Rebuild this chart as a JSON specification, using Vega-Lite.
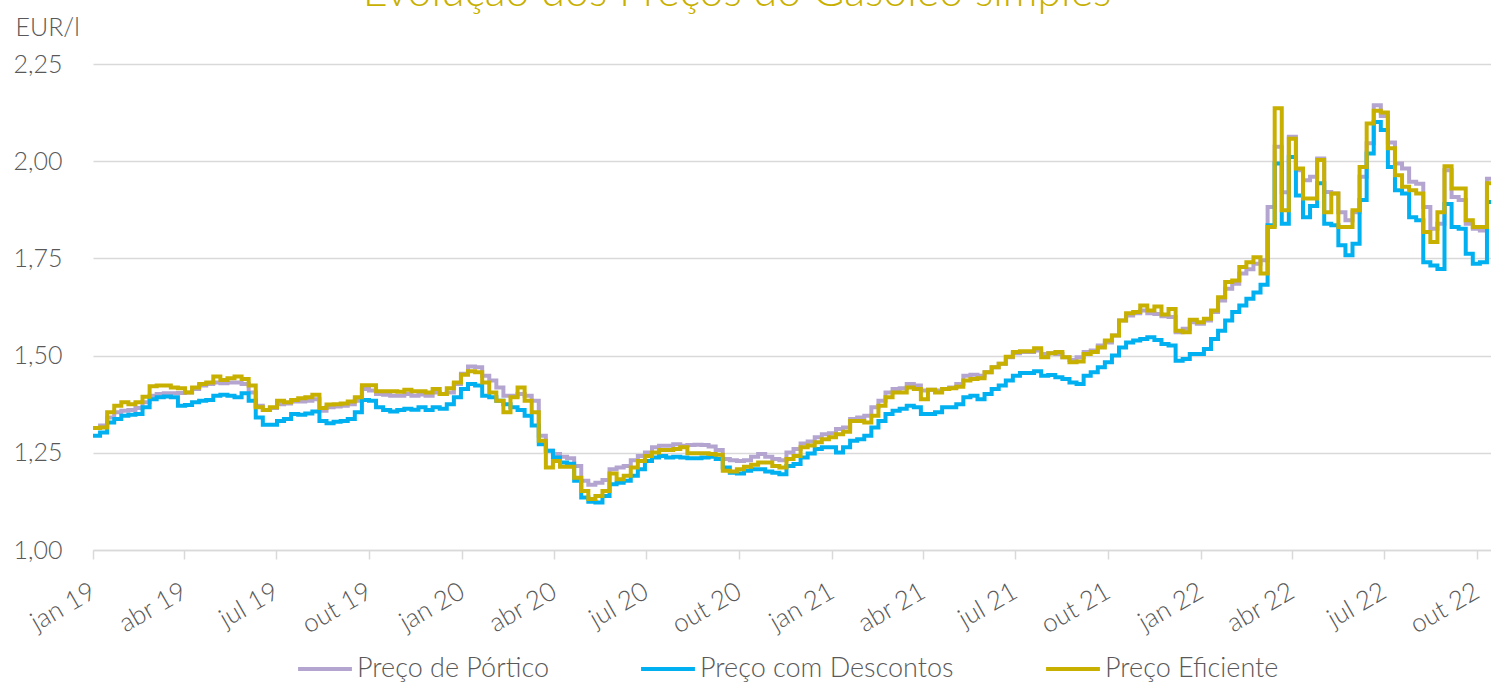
{
  "$schema": "https://vega.github.io/schema/vega-lite/v6.json",
  "width": 1398,
  "height": 486,
  "autosize": {"type": "none"},
  "padding": {"left": 93, "top": 64, "right": 0, "bottom": 132},
  "background": "white",
  "title": {"text": "Evolução dos Preços do Gasóleo simples", "color": "#C8B000", "fontSize": 43, "font": "Lato", "fontWeight": 300, "anchor": "middle", "frame": "group", "dx": -55, "offset": 0},
  "data": {"values": [
{"d":"2019-01-01","p":1.314,"c":1.294,"e":1.314},
{"d":"2019-01-08","p":1.320,"c":1.302,"e":1.315},
{"d":"2019-01-15","p":1.341,"c":1.328,"e":1.354},
{"d":"2019-01-22","p":1.354,"c":1.337,"e":1.371},
{"d":"2019-01-29","p":1.358,"c":1.345,"e":1.380},
{"d":"2019-02-05","p":1.360,"c":1.348,"e":1.375},
{"d":"2019-02-12","p":1.365,"c":1.350,"e":1.380},
{"d":"2019-02-19","p":1.380,"c":1.367,"e":1.394},
{"d":"2019-02-26","p":1.397,"c":1.388,"e":1.421},
{"d":"2019-03-05","p":1.401,"c":1.393,"e":1.423},
{"d":"2019-03-12","p":1.403,"c":1.395,"e":1.423},
{"d":"2019-03-19","p":1.403,"c":1.393,"e":1.418},
{"d":"2019-03-26","p":1.404,"c":1.371,"e":1.416},
{"d":"2019-04-02","p":1.405,"c":1.373,"e":1.405},
{"d":"2019-04-09","p":1.414,"c":1.380,"e":1.418},
{"d":"2019-04-16","p":1.423,"c":1.384,"e":1.427},
{"d":"2019-04-23","p":1.427,"c":1.386,"e":1.431},
{"d":"2019-04-30","p":1.431,"c":1.397,"e":1.446},
{"d":"2019-05-07","p":1.429,"c":1.399,"e":1.437},
{"d":"2019-05-14","p":1.431,"c":1.397,"e":1.442},
{"d":"2019-05-21","p":1.431,"c":1.393,"e":1.446},
{"d":"2019-05-28","p":1.427,"c":1.403,"e":1.440},
{"d":"2019-06-04","p":1.405,"c":1.384,"e":1.423},
{"d":"2019-06-11","p":1.371,"c":1.341,"e":1.367},
{"d":"2019-06-18","p":1.360,"c":1.322,"e":1.360},
{"d":"2019-06-25","p":1.365,"c":1.322,"e":1.367},
{"d":"2019-07-02","p":1.375,"c":1.332,"e":1.384},
{"d":"2019-07-09","p":1.377,"c":1.337,"e":1.380},
{"d":"2019-07-16","p":1.382,"c":1.350,"e":1.386},
{"d":"2019-07-23","p":1.382,"c":1.348,"e":1.390},
{"d":"2019-07-30","p":1.384,"c":1.351,"e":1.393},
{"d":"2019-08-06","p":1.388,"c":1.356,"e":1.399},
{"d":"2019-08-13","p":1.358,"c":1.332,"e":1.365},
{"d":"2019-08-20","p":1.367,"c":1.326,"e":1.374},
{"d":"2019-08-27","p":1.369,"c":1.330,"e":1.375},
{"d":"2019-09-03","p":1.371,"c":1.332,"e":1.377},
{"d":"2019-09-10","p":1.375,"c":1.337,"e":1.382},
{"d":"2019-09-17","p":1.384,"c":1.354,"e":1.393},
{"d":"2019-09-24","p":1.414,"c":1.386,"e":1.424},
{"d":"2019-10-01","p":1.410,"c":1.384,"e":1.424},
{"d":"2019-10-08","p":1.401,"c":1.367,"e":1.408},
{"d":"2019-10-15","p":1.399,"c":1.360,"e":1.408},
{"d":"2019-10-22","p":1.397,"c":1.356,"e":1.408},
{"d":"2019-10-29","p":1.397,"c":1.360,"e":1.407},
{"d":"2019-11-05","p":1.401,"c":1.363,"e":1.412},
{"d":"2019-11-12","p":1.397,"c":1.361,"e":1.408},
{"d":"2019-11-19","p":1.400,"c":1.367,"e":1.408},
{"d":"2019-11-26","p":1.397,"c":1.360,"e":1.405},
{"d":"2019-12-03","p":1.405,"c":1.367,"e":1.414},
{"d":"2019-12-10","p":1.401,"c":1.363,"e":1.401},
{"d":"2019-12-17","p":1.405,"c":1.375,"e":1.416},
{"d":"2019-12-24","p":1.427,"c":1.393,"e":1.431},
{"d":"2019-12-31","p":1.453,"c":1.414,"e":1.451},
{"d":"2020-01-07","p":1.472,"c":1.427,"e":1.460},
{"d":"2020-01-14","p":1.470,"c":1.423,"e":1.457},
{"d":"2020-01-21","p":1.448,"c":1.397,"e":1.431},
{"d":"2020-01-28","p":1.436,"c":1.393,"e":1.405},
{"d":"2020-02-04","p":1.418,"c":1.384,"e":1.384},
{"d":"2020-02-11","p":1.397,"c":1.375,"e":1.354},
{"d":"2020-02-18","p":1.397,"c":1.367,"e":1.393},
{"d":"2020-02-25","p":1.401,"c":1.360,"e":1.418},
{"d":"2020-03-03","p":1.397,"c":1.345,"e":1.384},
{"d":"2020-03-10","p":1.384,"c":1.320,"e":1.354},
{"d":"2020-03-17","p":1.294,"c":1.272,"e":1.281},
{"d":"2020-03-24","p":1.255,"c":1.255,"e":1.212},
{"d":"2020-03-31","p":1.247,"c":1.238,"e":1.229},
{"d":"2020-04-07","p":1.240,"c":1.225,"e":1.214},
{"d":"2020-04-14","p":1.236,"c":1.222,"e":1.214},
{"d":"2020-04-21","p":1.216,"c":1.178,"e":1.186},
{"d":"2020-04-28","p":1.178,"c":1.135,"e":1.152},
{"d":"2020-05-05","p":1.168,"c":1.124,"e":1.131},
{"d":"2020-05-12","p":1.173,"c":1.122,"e":1.139},
{"d":"2020-05-19","p":1.180,"c":1.139,"e":1.152},
{"d":"2020-05-26","p":1.208,"c":1.169,"e":1.197},
{"d":"2020-06-02","p":1.212,"c":1.173,"e":1.182},
{"d":"2020-06-09","p":1.216,"c":1.178,"e":1.191},
{"d":"2020-06-16","p":1.231,"c":1.191,"e":1.212},
{"d":"2020-06-23","p":1.242,"c":1.208,"e":1.229},
{"d":"2020-06-30","p":1.251,"c":1.229,"e":1.242},
{"d":"2020-07-07","p":1.264,"c":1.238,"e":1.251},
{"d":"2020-07-14","p":1.268,"c":1.242,"e":1.257},
{"d":"2020-07-21","p":1.268,"c":1.238,"e":1.257},
{"d":"2020-07-28","p":1.272,"c":1.240,"e":1.260},
{"d":"2020-08-04","p":1.268,"c":1.238,"e":1.264},
{"d":"2020-08-11","p":1.270,"c":1.236,"e":1.249},
{"d":"2020-08-18","p":1.271,"c":1.236,"e":1.249},
{"d":"2020-08-25","p":1.270,"c":1.238,"e":1.249},
{"d":"2020-09-01","p":1.266,"c":1.240,"e":1.247},
{"d":"2020-09-08","p":1.257,"c":1.234,"e":1.245},
{"d":"2020-09-15","p":1.234,"c":1.212,"e":1.204},
{"d":"2020-09-22","p":1.231,"c":1.199,"e":1.202},
{"d":"2020-09-29","p":1.229,"c":1.197,"e":1.208},
{"d":"2020-10-06","p":1.231,"c":1.204,"e":1.214},
{"d":"2020-10-13","p":1.240,"c":1.208,"e":1.219},
{"d":"2020-10-20","p":1.247,"c":1.208,"e":1.225},
{"d":"2020-10-27","p":1.240,"c":1.202,"e":1.225},
{"d":"2020-11-03","p":1.234,"c":1.199,"e":1.216},
{"d":"2020-11-10","p":1.231,"c":1.195,"e":1.212},
{"d":"2020-11-17","p":1.251,"c":1.216,"e":1.234},
{"d":"2020-11-24","p":1.260,"c":1.221,"e":1.242},
{"d":"2020-12-01","p":1.274,"c":1.238,"e":1.264},
{"d":"2020-12-08","p":1.279,"c":1.248,"e":1.269},
{"d":"2020-12-15","p":1.290,"c":1.260,"e":1.277},
{"d":"2020-12-22","p":1.298,"c":1.264,"e":1.285},
{"d":"2020-12-29","p":1.300,"c":1.264,"e":1.290},
{"d":"2021-01-05","p":1.311,"c":1.251,"e":1.298},
{"d":"2021-01-12","p":1.315,"c":1.264,"e":1.304},
{"d":"2021-01-19","p":1.337,"c":1.281,"e":1.332},
{"d":"2021-01-26","p":1.341,"c":1.285,"e":1.332},
{"d":"2021-02-02","p":1.345,"c":1.294,"e":1.328},
{"d":"2021-02-09","p":1.367,"c":1.315,"e":1.345},
{"d":"2021-02-16","p":1.384,"c":1.332,"e":1.371},
{"d":"2021-02-23","p":1.405,"c":1.350,"e":1.393},
{"d":"2021-03-02","p":1.414,"c":1.358,"e":1.405},
{"d":"2021-03-09","p":1.416,"c":1.363,"e":1.405},
{"d":"2021-03-16","p":1.427,"c":1.371,"e":1.418},
{"d":"2021-03-23","p":1.423,"c":1.367,"e":1.414},
{"d":"2021-03-30","p":1.410,"c":1.350,"e":1.388},
{"d":"2021-04-06","p":1.412,"c":1.350,"e":1.412},
{"d":"2021-04-13","p":1.410,"c":1.354,"e":1.405},
{"d":"2021-04-20","p":1.414,"c":1.367,"e":1.414},
{"d":"2021-04-27","p":1.418,"c":1.367,"e":1.416},
{"d":"2021-05-04","p":1.427,"c":1.375,"e":1.420},
{"d":"2021-05-11","p":1.448,"c":1.393,"e":1.436},
{"d":"2021-05-18","p":1.451,"c":1.397,"e":1.440},
{"d":"2021-05-25","p":1.448,"c":1.388,"e":1.442},
{"d":"2021-06-01","p":1.457,"c":1.401,"e":1.457},
{"d":"2021-06-08","p":1.470,"c":1.414,"e":1.470},
{"d":"2021-06-15","p":1.479,"c":1.423,"e":1.479},
{"d":"2021-06-22","p":1.496,"c":1.436,"e":1.497},
{"d":"2021-06-29","p":1.506,"c":1.448,"e":1.509},
{"d":"2021-07-06","p":1.509,"c":1.455,"e":1.511},
{"d":"2021-07-13","p":1.509,"c":1.455,"e":1.511},
{"d":"2021-07-20","p":1.513,"c":1.460,"e":1.519},
{"d":"2021-07-27","p":1.504,"c":1.448,"e":1.496},
{"d":"2021-08-03","p":1.506,"c":1.450,"e":1.506},
{"d":"2021-08-10","p":1.504,"c":1.444,"e":1.509},
{"d":"2021-08-17","p":1.496,"c":1.440,"e":1.496},
{"d":"2021-08-24","p":1.489,"c":1.431,"e":1.483},
{"d":"2021-08-31","p":1.496,"c":1.427,"e":1.485},
{"d":"2021-09-07","p":1.509,"c":1.448,"e":1.504},
{"d":"2021-09-14","p":1.513,"c":1.457,"e":1.509},
{"d":"2021-09-21","p":1.526,"c":1.470,"e":1.521},
{"d":"2021-09-28","p":1.534,"c":1.483,"e":1.539},
{"d":"2021-10-05","p":1.552,"c":1.500,"e":1.552},
{"d":"2021-10-12","p":1.590,"c":1.521,"e":1.590},
{"d":"2021-10-19","p":1.603,"c":1.534,"e":1.609},
{"d":"2021-10-26","p":1.609,"c":1.539,"e":1.612},
{"d":"2021-11-02","p":1.616,"c":1.543,"e":1.629},
{"d":"2021-11-09","p":1.609,"c":1.547,"e":1.616},
{"d":"2021-11-16","p":1.607,"c":1.540,"e":1.626},
{"d":"2021-11-23","p":1.601,"c":1.530,"e":1.606},
{"d":"2021-11-30","p":1.599,"c":1.526,"e":1.620},
{"d":"2021-12-07","p":1.560,"c":1.487,"e":1.564},
{"d":"2021-12-14","p":1.569,"c":1.491,"e":1.560},
{"d":"2021-12-21","p":1.586,"c":1.504,"e":1.592},
{"d":"2021-12-28","p":1.582,"c":1.504,"e":1.586},
{"d":"2022-01-04","p":1.590,"c":1.517,"e":1.595},
{"d":"2022-01-11","p":1.612,"c":1.543,"e":1.616},
{"d":"2022-01-18","p":1.642,"c":1.564,"e":1.650},
{"d":"2022-01-25","p":1.672,"c":1.590,"e":1.689},
{"d":"2022-02-01","p":1.685,"c":1.612,"e":1.693},
{"d":"2022-02-08","p":1.711,"c":1.629,"e":1.728},
{"d":"2022-02-15","p":1.722,"c":1.646,"e":1.740},
{"d":"2022-02-22","p":1.736,"c":1.662,"e":1.753},
{"d":"2022-03-01","p":1.745,"c":1.682,"e":1.711},
{"d":"2022-03-08","p":1.882,"c":1.835,"e":1.831},
{"d":"2022-03-15","p":2.037,"c":1.994,"e":2.136},
{"d":"2022-03-22","p":1.920,"c":1.839,"e":1.874},
{"d":"2022-03-29","p":2.063,"c":2.011,"e":2.058},
{"d":"2022-04-05","p":1.977,"c":1.912,"e":1.981},
{"d":"2022-04-12","p":1.951,"c":1.856,"e":1.904},
{"d":"2022-04-19","p":1.960,"c":1.885,"e":1.904},
{"d":"2022-04-26","p":2.007,"c":1.943,"e":2.003},
{"d":"2022-05-03","p":1.921,"c":1.839,"e":1.869},
{"d":"2022-05-10","p":1.917,"c":1.835,"e":1.917},
{"d":"2022-05-17","p":1.869,"c":1.784,"e":1.831},
{"d":"2022-05-24","p":1.848,"c":1.758,"e":1.831},
{"d":"2022-05-31","p":1.869,"c":1.788,"e":1.874},
{"d":"2022-06-07","p":1.960,"c":1.900,"e":1.985},
{"d":"2022-06-14","p":2.046,"c":2.020,"e":2.097},
{"d":"2022-06-21","p":2.144,"c":2.101,"e":2.130},
{"d":"2022-06-28","p":2.116,"c":2.080,"e":2.125},
{"d":"2022-07-05","p":2.048,"c":1.985,"e":2.033},
{"d":"2022-07-12","p":1.994,"c":1.925,"e":1.964},
{"d":"2022-07-19","p":1.981,"c":1.917,"e":1.934},
{"d":"2022-07-26","p":1.947,"c":1.856,"e":1.925},
{"d":"2022-08-02","p":1.942,"c":1.848,"e":1.917},
{"d":"2022-08-09","p":1.882,"c":1.740,"e":1.818},
{"d":"2022-08-16","p":1.826,"c":1.732,"e":1.792},
{"d":"2022-08-23","p":1.839,"c":1.723,"e":1.869},
{"d":"2022-08-30","p":1.977,"c":1.890,"e":1.987},
{"d":"2022-09-06","p":1.908,"c":1.831,"e":1.930},
{"d":"2022-09-13","p":1.900,"c":1.826,"e":1.930},
{"d":"2022-09-20","p":1.839,"c":1.762,"e":1.848},
{"d":"2022-09-27","p":1.826,"c":1.736,"e":1.831},
{"d":"2022-10-04","p":1.822,"c":1.740,"e":1.831},
{"d":"2022-10-11","p":1.955,"c":1.895,"e":1.943},
{"d":"2022-10-15","p":1.955,"c":1.895,"e":1.943}
  ]},
  "transform": [{"fold": ["p", "c", "e"], "as": ["serie", "valor"]}],
  "mark": {"type": "line", "strokeWidth": 4, "interpolate": "step-after", "clip": true},
  "encoding": {
    "x": {
      "field": "d", "type": "temporal",
      "scale": {"type": "utc", "domain": [{"year": 2019, "month": 1, "date": 1, "utc": true}, {"year": 2022, "month": 10, "date": 15, "utc": true}]},
      "axis": {
        "title": null,
        "values": [
          {"year": 2019, "month": 1, "date": 1, "utc": true}, {"year": 2019, "month": 4, "date": 1, "utc": true},
          {"year": 2019, "month": 7, "date": 1, "utc": true}, {"year": 2019, "month": 10, "date": 1, "utc": true},
          {"year": 2020, "month": 1, "date": 1, "utc": true}, {"year": 2020, "month": 4, "date": 1, "utc": true},
          {"year": 2020, "month": 7, "date": 1, "utc": true}, {"year": 2020, "month": 10, "date": 1, "utc": true},
          {"year": 2021, "month": 1, "date": 1, "utc": true}, {"year": 2021, "month": 4, "date": 1, "utc": true},
          {"year": 2021, "month": 7, "date": 1, "utc": true}, {"year": 2021, "month": 10, "date": 1, "utc": true},
          {"year": 2022, "month": 1, "date": 1, "utc": true}, {"year": 2022, "month": 4, "date": 1, "utc": true},
          {"year": 2022, "month": 7, "date": 1, "utc": true}, {"year": 2022, "month": 10, "date": 1, "utc": true}
        ],
        "labelExpr": "['jan','fev','mar','abr','mai','jun','jul','ago','set','out','nov','dez'][utcmonth(datum.value)] + ' ' + utcFormat(datum.value, '%y')",
        "labelAngle": -30, "labelAlign": "right", "labelBaseline": "middle",
        "labelPadding": 30, "labelFlush": false, "labelOverlap": false, "labelFontSize": 26,
        "grid": false, "domain": true, "domainColor": "#D9D9D9", "domainWidth": 1.5,
        "ticks": true, "tickColor": "#D9D9D9", "tickSize": 9, "tickWidth": 1.5
      }
    },
    "y": {
      "field": "valor", "type": "quantitative",
      "scale": {"domain": [1, 2.25], "nice": false, "zero": false},
      "axis": {
        "title": "EUR/l", "titleAngle": 0, "titleAlign": "left", "titleBaseline": "alphabetic",
        "titleX": -78, "titleY": -29, "titleFontSize": 25, "titleFont": "Lato", "titleFontWeight": 300, "titleColor": "#595959",
        "values": [1, 1.25, 1.5, 1.75, 2, 2.25],
        "labelExpr": "replace(format(datum.value, '.2f'), '.', ',')",
        "labelPadding": 31, "ticks": false, "domain": false,
        "grid": true, "gridColor": "#D9D9D9", "gridWidth": 1.5
      }
    },
    "color": {
      "field": "serie", "type": "nominal",
      "scale": {"domain": ["p", "c", "e"], "range": ["#B3A5CF", "#00B0F0", "#C8B000"]},
      "legend": {
        "title": null, "orient": "none", "direction": "horizontal", "legendX": 203, "legendY": 576,
        "labelExpr": "datum.label == 'p' ? 'Preço de Pórtico' : datum.label == 'c' ? 'Preço com Descontos' : 'Preço Eficiente'",
        "symbolType": "stroke", "symbolSize": 2900, "symbolStrokeWidth": 4,
        "labelOffset": 3, "columnPadding": 84, "labelLimit": 0,
        "labelFontSize": 27, "labelFont": "Lato", "labelFontWeight": 300, "labelColor": "#595959"
      }
    }
  },
  "config": {
    "view": {"stroke": null},
    "axis": {"labelFont": "Lato", "labelFontSize": 25, "labelFontWeight": 300, "labelColor": "#595959"}
  }
}
